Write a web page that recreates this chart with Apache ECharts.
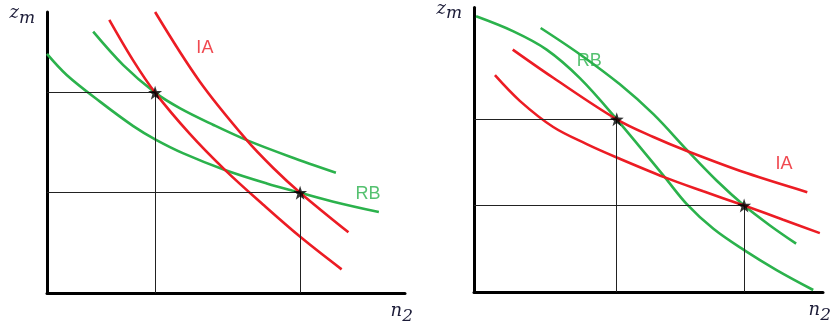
<!DOCTYPE html>
<html>
<head>
<meta charset="utf-8">
<script src="https://cdn.jsdelivr.net/npm/echarts@6/dist/echarts.min.js"></script>
<style>
  html, body { margin: 0; padding: 0; background: #fff; }
  #chart { width: 838px; height: 326px; }
</style>
</head>
<body>
<div id="chart"></div>
<script>
// Left panel: IA curves (red) and RB curves (green), in axis units 0..10
const leftRedA = [[1.74, 9.72], [2.41, 8.27], [3.02, 7.13], [3.99, 5.66], [4.97, 4.38], [6.04, 3.14], [7.09, 1.98], [8.23, 0.84]];
const leftRedB = [[3.02, 10.0], [4.27, 7.52], [5.58, 5.44], [6.32, 4.45], [7.07, 3.57], [8.42, 2.16]];
const leftGreenA = [[1.29, 9.30], [2.13, 8.11], [3.02, 7.13], [3.72, 6.57], [4.65, 5.98], [5.58, 5.44], [6.79, 4.85], [8.07, 4.28]];
const leftGreenB = [[0.0, 8.51], [0.55, 7.76], [1.48, 6.81], [2.41, 5.94], [3.02, 5.47], [3.81, 4.97], [4.97, 4.38], [6.14, 3.90], [7.07, 3.57], [8.00, 3.25], [9.27, 2.88]];
const leftStars = [[3.02, 7.13], [7.07, 3.57]];

// Right panel
const rightRedA = [[1.11, 8.52], [2.27, 7.53], [4.09, 6.07], [5.14, 5.45], [6.14, 4.94], [7.81, 4.18], [9.55, 3.51]];
const rightRedB = [[0.60, 7.62], [1.32, 6.71], [2.27, 5.80], [3.23, 5.20], [4.09, 4.73], [5.47, 4.03], [6.57, 3.54], [7.74, 3.04], [8.86, 2.54], [9.91, 2.07]];
const rightGreenA = [[0.06, 9.69], [1.13, 9.16], [2.08, 8.52], [3.04, 7.51], [4.09, 6.07], [5.47, 4.03], [6.09, 3.10], [6.86, 2.22], [7.74, 1.47], [8.67, 0.77], [9.72, 0.07]];
const rightGreenB = [[1.91, 9.28], [3.04, 8.35], [4.18, 7.30], [5.14, 6.25], [6.14, 4.94], [6.95, 3.92], [7.74, 3.04], [8.48, 2.34], [9.23, 1.70]];
const rightStars = [[4.09, 6.07], [7.74, 3.04]];

// Curve labels: [text, x, y, curve family]
const leftLabels = [['IA', 4.41, 8.72, 'red'], ['RB', 8.97, 3.52, 'green']];
const rightLabels = [['RB', 3.30, 8.11, 'green'], ['IA', 8.88, 4.51, 'red']];

const RED = '#ec1c24';
const GREEN = '#2bb24c';
const STAR = 'path://M50,0 L61.8,35.1 L98.9,35.4 L69.1,57.6 L80.2,93.1 L50,71.6 L19.8,93.1 L30.9,57.6 L1.1,35.4 L38.2,35.1 Z';

function axisPair(idx) {
  const axisLine = { show: true, onZero: false, lineStyle: { color: '#000', width: 3 } };
  const nameRich = {
    z: { fontFamily: 'DejaVu Serif', fontStyle: 'italic', fontSize: 18, color: '#1c1c38' },
    s: { fontFamily: 'DejaVu Serif', fontStyle: 'italic', fontSize: 17, color: '#1c1c38', padding: [10, 0, 0, 0] }
  };
  return {
    x: {
      type: 'value', gridIndex: idx, min: 0, max: 10,
      axisLine, axisTick: { show: false }, axisLabel: { show: false }, splitLine: { show: false },
      name: '{z|n}{s|2}', nameLocation: 'end', nameGap: 0,
      nameTextStyle: { rich: nameRich, align: 'right', verticalAlign: 'top', padding: [5, -8, 0, 0] }
    },
    y: {
      type: 'value', gridIndex: idx, min: 0, max: 10,
      axisLine, axisTick: { show: false }, axisLabel: { show: false }, splitLine: { show: false },
      name: '{z|z}{s|m}', nameLocation: 'end', nameGap: 0,
      nameTextStyle: { rich: nameRich, align: 'right', verticalAlign: 'top', padding: [-12, 12, 0, 0] }
    }
  };
}

function curve(data, color, idx) {
  return {
    type: 'line', data, xAxisIndex: idx, yAxisIndex: idx, smooth: 0.35,
    symbol: 'none', lineStyle: { color, width: 2.6 }, silent: true, z: 3
  };
}

function guides(stars, idx) {
  const lines = [];
  stars.forEach(([x, y]) => {
    lines.push([{ coord: [0, y] }, { coord: [x, y] }]);
    lines.push([{ coord: [x, y] }, { coord: [x, 0] }]);
  });
  return {
    type: 'line', data: [], xAxisIndex: idx, yAxisIndex: idx, z: 2,
    markLine: { silent: true, symbol: 'none', label: { show: false },
      lineStyle: { color: '#222', width: 1, type: 'solid' }, data: lines }
  };
}

function starSeries(stars, idx) {
  return {
    type: 'scatter', data: stars, xAxisIndex: idx, yAxisIndex: idx,
    symbol: STAR, symbolSize: 14, itemStyle: { color: '#000' }, z: 5, silent: true
  };
}

function labelSeries(labels, idx) {
  return {
    type: 'scatter', xAxisIndex: idx, yAxisIndex: idx, symbolSize: 0, silent: true, z: 6,
    data: labels.map(([t, x, y, c]) => ({
      value: [x, y],
      label: { show: true, position: 'inside', formatter: t,
        color: c === 'red' ? RED : GREEN,
        fontFamily: 'Liberation Sans', fontSize: 18 }
    }))
  };
}

const a0 = axisPair(0), a1 = axisPair(1);

const option = {
  animation: false,
  grid: [
    { left: 47, top: 12, width: 358, height: 281 },
    { left: 474, top: 6, width: 349, height: 286 }
  ],
  xAxis: [a0.x, a1.x],
  yAxis: [a0.y, a1.y],
  series: [
    guides(leftStars, 0),
    curve(leftGreenA, GREEN, 0),
    curve(leftGreenB, GREEN, 0),
    curve(leftRedA, RED, 0),
    curve(leftRedB, RED, 0),
    starSeries(leftStars, 0),
    labelSeries(leftLabels, 0),
    guides(rightStars, 1),
    curve(rightGreenA, GREEN, 1),
    curve(rightGreenB, GREEN, 1),
    curve(rightRedA, RED, 1),
    curve(rightRedB, RED, 1),
    starSeries(rightStars, 1),
    labelSeries(rightLabels, 1)
  ]
};

const chart = echarts.init(document.getElementById('chart'), null, { renderer: 'canvas' });
chart.setOption(option);
</script>
</body>
</html>
